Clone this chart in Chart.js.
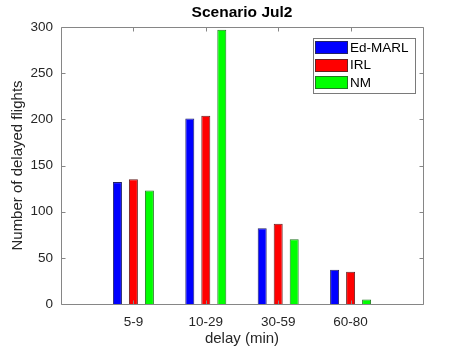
<!DOCTYPE html>
<html><head><meta charset="utf-8">
<script src="https://cdn.jsdelivr.net/npm/chart.js@4/dist/chart.umd.min.js"></script>
<style>html,body{margin:0;padding:0;background:#fff}canvas{display:block}</style>
</head><body>
<canvas id="c" width="468" height="351"></canvas>
<script>
// ---- data ----
const categories = ['5-9', '10-29', '30-59', '60-80'];
const edMarl = [132, 201, 82, 37];
const irl = [135, 204, 87, 35];
const nm = [123, 297, 70, 5];
const seriesNames = ['Ed-MARL', 'IRL', 'NM'];
const yTickValues = [0, 50, 100, 150, 200, 250, 300];
const titleText = 'Scenario Jul2';
const xTitleText = 'delay (min)';
const yTitleText = 'Number of delayed flights';

// ---- styling ----
const FONT = "'Liberation Sans', Arial, Helvetica, sans-serif";
const TEXT = '#262626';
const AXIS = '#868686';
const COLORS = ['#0000ff', '#ff0000', '#00ff00'];
const EDGES = ['#222266', '#662222', '#227722'];

const padArr = a => [null, ...a, null];
const labels = ['', ...categories, ''];
const series = [edMarl, irl, nm];

const frame = {
  id: 'frame',
  afterDatasetsDraw(chart) {
    const {ctx, chartArea: a, scales: {x, y}} = chart;
    const r = v => Math.round(v) + 0.5;
    ctx.save();
    ctx.strokeStyle = AXIS;
    ctx.lineWidth = 1;
    ctx.beginPath();
    ctx.rect(r(a.left), r(a.top), Math.round(a.right) - Math.round(a.left), Math.round(a.bottom) - Math.round(a.top));
    const tl = 4;
    for (let i = 1; i <= categories.length; i++) {
      const px = r(x.getPixelForValue(i));
      ctx.moveTo(px, r(a.bottom)); ctx.lineTo(px, r(a.bottom) - tl);
      ctx.moveTo(px, r(a.top)); ctx.lineTo(px, r(a.top) + tl);
    }
    yTickValues.forEach(v => {
      const py = r(y.getPixelForValue(v));
      ctx.moveTo(r(a.left), py); ctx.lineTo(r(a.left) + tl, py);
      ctx.moveTo(r(a.right), py); ctx.lineTo(r(a.right) - tl, py);
    });
    ctx.stroke();
    // title centred over the plot area
    ctx.fillStyle = '#000';
    ctx.font = 'bold 15.5px ' + FONT;
    ctx.textAlign = 'center';
    ctx.textBaseline = 'middle';
    ctx.fillText(titleText, (a.left + a.right) / 2, 13);
    ctx.restore();
  }
};

const boxLegend = {
  id: 'boxLegend',
  afterDraw(chart) {
    const {ctx, chartArea: a} = chart;
    const w = 102, h = 55;
    const bx = Math.round(a.right) - 8 - w, by = Math.round(a.top) + 11;
    ctx.save();
    ctx.fillStyle = '#ffffff';
    ctx.fillRect(bx, by, w, h);
    ctx.strokeStyle = '#7a7a7a';
    ctx.lineWidth = 1;
    ctx.strokeRect(bx + 0.5, by + 0.5, w, h);
    ctx.font = '13.5px ' + FONT;
    ctx.textBaseline = 'middle';
    ctx.textAlign = 'left';
    chart.data.datasets.forEach((ds, i) => {
      const cy = by + 9.5 + i * 17.5;
      ctx.fillStyle = ds.backgroundColor;
      ctx.fillRect(bx + 2, Math.round(cy - 6.5), 33, 13);
      ctx.strokeStyle = ds.borderColor;
      ctx.strokeRect(bx + 2.5, Math.round(cy - 6.5) + 0.5, 32, 12);
      ctx.fillStyle = '#000';
      ctx.fillText(ds.label, bx + 37, cy + 0.5);
    });
    ctx.restore();
  }
};

new Chart(document.getElementById('c'), {
  type: 'bar',
  data: {
    labels: labels,
    datasets: series.map((s, i) => ({
      label: seriesNames[i],
      data: padArr(s),
      backgroundColor: COLORS[i],
      borderColor: EDGES[i],
      borderWidth: 1,
      categoryPercentage: 0.663,
      barPercentage: 0.5625
    }))
  },
  options: {
    responsive: false,
    animation: false,
    devicePixelRatio: 1,
    layout: {padding: {left: 0, right: 45, top: 27, bottom: 0}},
    plugins: {
      legend: {display: false},
      tooltip: {enabled: false},
      title: {display: false}
    },
    scales: {
      x: {
        type: 'category',
        offset: false,
        grid: {display: false, drawTicks: false},
        border: {display: false},
        ticks: {color: TEXT, font: {family: FONT, size: 13.5}, padding: 10, maxRotation: 0, autoSkip: false},
        title: {display: true, text: xTitleText, color: TEXT, font: {family: FONT, size: 15}, padding: {top: 0, bottom: 3}},
        afterFit: s => { s.height = 47; }
      },
      y: {
        min: 0, max: 300,
        grid: {display: false, drawTicks: false},
        border: {display: false},
        ticks: {stepSize: 50, color: TEXT, font: {family: FONT, size: 13.5}, padding: 8},
        title: {display: true, text: yTitleText, color: TEXT, font: {family: FONT, size: 15}, padding: {top: 8.5, bottom: 0}},
        afterFit: s => { s.width = 61; }
      }
    }
  },
  plugins: [frame, boxLegend]
});
</script>
</body></html>
